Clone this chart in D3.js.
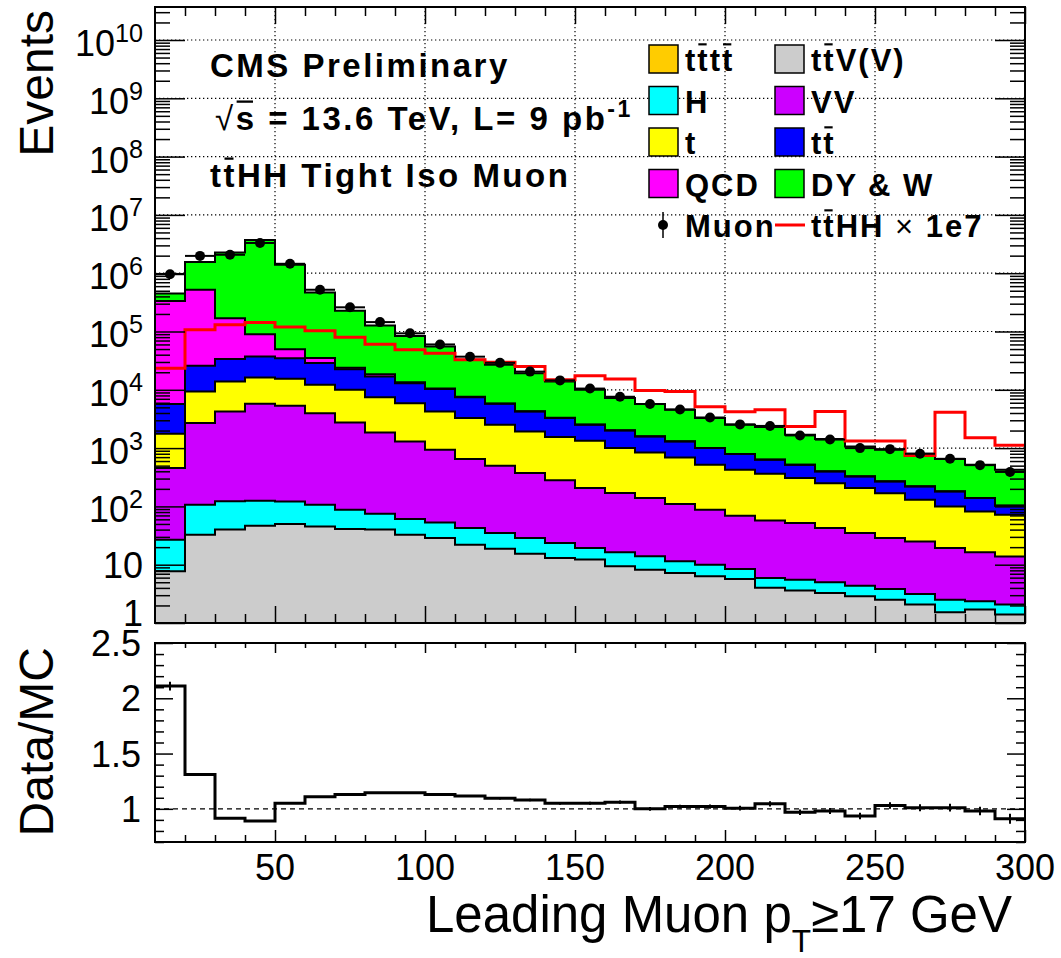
<!DOCTYPE html>
<html>
<head>
<meta charset="utf-8">
<script src="https://cdn.jsdelivr.net/npm/d3@7"></script>
<style>
  body { margin: 0; background: #fff; }
  text { font-family: "Liberation Sans", Arial, Helvetica, sans-serif; fill: #000; }
</style>
</head>
<body>
<svg id="chart" width="1061" height="958"></svg>
<script>
// bin lower edges (GeV) plus the final upper edge
var binEdges = [10, 20, 30, 40, 50, 60, 70, 80, 90, 100, 110, 120, 130, 140, 150,
  160, 170, 180, 190, 200, 210, 220, 230, 240, 250, 260, 270, 280, 290, 300];

// background processes, events per bin (stacked bottom to top)
var tttt = [0.02, 0.05, 0.06, 0.07, 0.07, 0.06, 0.06, 0.05, 0.05, 0.04, 0.04, 0.03, 0.03, 0.03, 0.02,
  0.02, 0.02, 0.02, 0.01, 0.01, 0.01, 0.01, 0.01, 0.01, 0.01, 0.01, 0.01, 0.01, 0.01];
var ttVV = [7.7, 32.6, 40, 46.5, 49.8, 45, 40.9, 40, 32.6, 28.7, 22, 18.8, 15.4, 13, 12.2,
  9.35, 8.2, 7.2, 6.3, 5.7, 4.0, 3.6, 3.27, 2.86, 2.5, 2.06, 1.52, 1.69, 1.39];
var higgs = [19, 74, 82, 78, 72, 62, 46.6, 34.8, 28, 24.3, 20.5, 16.1, 13.3, 10.5, 7.1,
  6.95, 5.7, 4.2, 3.7, 2.7, 1.9, 1.9, 1.7, 1.5, 1.33, 1.08, 0.98, 0.66, 0.67];
var diboson = [427, 2583, 4118, 5625, 5188, 3873, 2662, 1775, 1240, 882, 606, 462, 344, 256, 187,
  153, 125, 98.6, 77.5, 60.6, 51.5, 46.3, 37.5, 30.5, 24.9, 21.9, 16.8, 13.95, 11.8];
var singleTop = [1306, 6650, 9660, 10550, 10090, 8220, 7250, 5630, 4600, 3305, 2622, 2013, 1557, 1266, 1124,
  831, 702, 582, 430, 356, 306, 254, 208, 171, 140, 105, 80.7, 65.7, 58];
var ttbar = [3920, 16460, 19700, 20900, 19500, 16500, 12600, 9420, 7100, 6060, 4210, 3240, 2310, 1725, 1180,
  1010, 744, 608, 482, 364, 268, 212, 147, 120, 99, 90, 81, 57, 31];
var qcd = [329000, 492000, 135400, 52800, 14900, 6300, 1400, 1600, 500, 200, 100, 80, 50, 30, 20,
  15, 10, 8, 5, 4, 3, 2, 2, 2, 1, 1, 1, 1, 1];
var dyW = [115000, 1032000, 2091000, 3630000, 1340000, 430000, 202000, 108500, 70500, 44800, 25200, 21000, 15000, 10600, 7470,
  5175, 4085, 3232, 2265, 1717, 1656, 1170, 1030, 737, 666, 579, 466, 378, 321];

// data and signal
var muonData = [960000, 1980000, 2070000, 3300000, 1450000, 520000, 260000, 145000, 93000, 60000, 37000, 29000, 20500, 14500, 10500,
  7600, 5700, 4600, 3350, 2550, 2400, 1650, 1400, 1000, 960, 800, 655, 510, 390];
var ttHHx1e7 = [23500, 107000, 130000, 143000, 119000, 103000, 80000, 60700, 48500, 42500, 32700, 29800, 25100, 14800, 17500,
  15300, 9720, 9340, 5100, 4200, 4540, 2350, 4240, 1320, 1320, 750, 4140, 1500, 1120];

// ratio panel
var ratio = [2.11, 1.31, 0.915, 0.89, 1.05, 1.11, 1.13, 1.145, 1.145, 1.13, 1.115, 1.095, 1.08, 1.05, 1.05,
  1.06, 1.0, 1.02, 1.02, 1.006, 1.045, 0.97, 0.98, 0.935, 1.03, 1.01, 1.01, 0.98, 0.91];
var ratioErr = [0.04, 0.005, 0.005, 0.005, 0.005, 0.005, 0.005, 0.005, 0.005, 0.006, 0.008, 0.01, 0.012, 0.012, 0.014,
  0.015, 0.017, 0.018, 0.02, 0.022, 0.024, 0.025, 0.027, 0.03, 0.03, 0.032, 0.035, 0.038, 0.045];

// ticks
var xMajorTicks = [50, 100, 150, 200, 250, 300];
var xTickLabels = ["50", "100", "150", "200", "250", "300"];
var yExponents = [0, 1, 2, 3, 4, 5, 6, 7, 8, 9, 10];
var ratioTicks = [1, 1.5, 2, 2.5];
var ratioTickLabels = ["1", "1.5", "2", "2.5"];

// stack order, colours and legend labels
// markup: [..] overbar, ^{..} superscript, _{..} subscript, ~{..} normal weight
var procKeys = ["tttt", "ttVV", "higgs", "diboson", "singleTop", "ttbar", "qcd", "dyW"];
var procValues = { tttt: tttt, ttVV: ttVV, higgs: higgs, diboson: diboson, singleTop: singleTop, ttbar: ttbar, qcd: qcd, dyW: dyW };
var procColors = { tttt: "#ffcc00", ttVV: "#cccccc", higgs: "#00ffff", diboson: "#cc00ff",
  singleTop: "#ffff00", ttbar: "#0000ff", qcd: "#ff00ff", dyW: "#00ff00" };
var legendLeft = [["tttt", "t[t]t[t]"], ["higgs", "H"], ["singleTop", "t"], ["qcd", "QCD"], ["data", "Muon"]];
var legendRight = [["ttVV", "t[t]V(V)"], ["diboson", "VV"], ["ttbar", "t[t]"], ["dyW", "DY & W"], ["signal", "t[t]HH ~{×} 1e7"]];

var svg = d3.select("#chart");

// panel geometry
var main = { left: 155, right: 1025, top: 7, bottom: 623 };
var rat = { left: 155, right: 1025, top: 643, bottom: 842 };

var x = d3.scaleLinear().domain([10, 300]).range([main.left, main.right]);
var y = d3.scaleLog().domain([1, Math.pow(10, 10.566)]).range([main.bottom, main.top]).clamp(true);
var yr = d3.scaleLinear().domain([0.7, 2.5]).range([rat.bottom, rat.top]);

// text with overbars / super- and subscripts
function rich(parent, px, py, markup, o) {
  var fs = o.size;
  var t = parent.append("text")
    .attr("x", px).attr("y", py)
    .attr("font-size", fs)
    .attr("font-weight", o.weight || "normal")
    .attr("text-anchor", o.anchor || "start")
    .attr("letter-spacing", o.ls || 0);
  if (o.transform) t.attr("transform", o.transform);
  var re = /\[([^\]]+)\]|\^\{([^}]+)\}|_\{([^}]+)\}|~\{([^}]+)\}|([^\[\^_~]+)/g;
  var m, shift = 0, idx = 0, bars = [];
  while ((m = re.exec(markup))) {
    var s, dy = 0, size = fs, w = null;
    if (m[1]) { s = m[1]; bars.push([idx, s.length]); }
    else if (m[2]) { s = m[2]; size = fs * 0.7; dy = -fs * 0.4; }
    else if (m[3]) { s = m[3]; size = fs * 0.62; dy = fs * 0.4; }
    else if (m[4]) { s = m[4]; w = "normal"; }
    else s = m[5];
    var ts = t.append("tspan").text(s).attr("font-size", size).attr("dy", dy - shift);
    if (w) ts.attr("font-weight", w);
    shift = dy;
    idx += s.length;
  }
  var node = t.node();
  bars.forEach(function (b) {
    var e0 = node.getExtentOfChar(b[0]);
    var e1 = node.getExtentOfChar(b[0] + b[1] - 1);
    var x1 = e0.x + 1, x2 = e1.x + e1.width - (o.ls || 0) - 1, yb = py - fs * 0.86;
    if (b[0] > 0 && markup.charAt(markup.indexOf("[") - 1) === "√") { x1 -= 3; yb = py - fs * 0.95; }
    parent.append("line").attr("x1", x1).attr("x2", x2).attr("y1", yb).attr("y2", yb)
      .attr("stroke", "#000").attr("stroke-width", Math.max(2, fs * 0.07));
  });
  return t;
}

// ---------- main panel ----------
var gMain = svg.append("g");

// grid
var gridStyle = function (s) {
  s.attr("stroke", "#000").attr("stroke-width", 1.2).attr("stroke-dasharray", "1.3,2.7");
};
gMain.selectAll(".gx").data([50, 100, 150, 200, 250]).enter().append("line")
  .attr("x1", d => x(d)).attr("x2", d => x(d)).attr("y1", main.top).attr("y2", main.bottom).call(gridStyle);
gMain.selectAll(".gy").data(yExponents.slice(1)).enter().append("line")
  .attr("x1", main.left).attr("x2", main.right)
  .attr("y1", d => y(Math.pow(10, d))).attr("y2", d => y(Math.pow(10, d))).call(gridStyle);

// stacked backgrounds
var rows = binEdges.slice(0, -1).map(function (lo, i) {
  var r = { lo: lo };
  procKeys.forEach(function (k) { r[k] = procValues[k][i]; });
  return r;
});
var stacked = d3.stack().keys(procKeys)(rows);

function stepPts(layer) {
  var pts = layer.map(function (d, i) { return { e: binEdges[i], lo: d[0], hi: d[1] }; });
  var last = pts[pts.length - 1];
  pts.push({ e: binEdges[binEdges.length - 1], lo: last.lo, hi: last.hi });
  return pts;
}
var area = d3.area().curve(d3.curveStepAfter)
  .x(d => x(d.e)).y0(d => y(Math.max(d.lo, 1e-3))).y1(d => y(d.hi));
var stepLine = d3.line().curve(d3.curveStepAfter).x(d => x(d.e)).y(d => y(d.hi));

stacked.forEach(function (layer) {
  gMain.append("path").attr("d", area(stepPts(layer))).attr("fill", procColors[layer.key]).attr("stroke", "none");
});
stacked.forEach(function (layer) {
  gMain.append("path").attr("d", stepLine(stepPts(layer)))
    .attr("fill", "none").attr("stroke", "#000").attr("stroke-width", 2);
});

// signal
var sigPts = ttHHx1e7.map((v, i) => ({ e: binEdges[i], hi: v }));
sigPts.push({ e: 300, hi: ttHHx1e7[ttHHx1e7.length - 1] });
gMain.append("path").attr("d", stepLine(sigPts))
  .attr("fill", "none").attr("stroke", "#ff0000").attr("stroke-width", 3);

// data
var pts = muonData.map((v, i) => ({ lo: binEdges[i], hi: binEdges[i + 1], v: v }));
gMain.selectAll(".dbar").data(pts).enter().append("line")
  .attr("x1", d => x(d.lo)).attr("x2", d => x(d.hi))
  .attr("y1", d => y(d.v)).attr("y2", d => y(d.v))
  .attr("stroke", "#000").attr("stroke-width", 2);
gMain.selectAll(".dot").data(pts).enter().append("circle")
  .attr("cx", d => x((d.lo + d.hi) / 2)).attr("cy", d => y(d.v)).attr("r", 5).attr("fill", "#000");

// axes ticks (inward on all sides)
function ticks(g, axis) {
  g.call(axis.tickFormat(""));
  g.select(".domain").remove();
  g.selectAll(".tick line").attr("stroke", "#000").attr("stroke-width", 1.5);
}
var yMajors = yExponents.map(e => Math.pow(10, e));
var yMinors = [];
yExponents.forEach(function (e) {
  for (var k = 2; k <= 9; k++) { var v = k * Math.pow(10, e); if (v < y.domain()[1]) yMinors.push(v); }
});
var xMinors = d3.range(20, 300, 10).filter(v => v % 50 !== 0);

ticks(gMain.append("g").attr("transform", `translate(${main.left},0)`), d3.axisRight(y).tickValues(yMajors).tickSize(30));
ticks(gMain.append("g").attr("transform", `translate(${main.left},0)`), d3.axisRight(y).tickValues(yMinors).tickSize(15));
ticks(gMain.append("g").attr("transform", `translate(${main.right},0)`), d3.axisLeft(y).tickValues(yMajors).tickSize(30));
ticks(gMain.append("g").attr("transform", `translate(${main.right},0)`), d3.axisLeft(y).tickValues(yMinors).tickSize(15));
ticks(gMain.append("g").attr("transform", `translate(0,${main.bottom})`), d3.axisTop(x).tickValues(xMajorTicks).tickSize(17));
ticks(gMain.append("g").attr("transform", `translate(0,${main.bottom})`), d3.axisTop(x).tickValues(xMinors).tickSize(9));
ticks(gMain.append("g").attr("transform", `translate(0,${main.top})`), d3.axisBottom(x).tickValues(xMajorTicks).tickSize(17));
ticks(gMain.append("g").attr("transform", `translate(0,${main.top})`), d3.axisBottom(x).tickValues(xMinors).tickSize(9));

gMain.append("rect").attr("x", main.left).attr("y", main.top)
  .attr("width", main.right - main.left).attr("height", main.bottom - main.top)
  .attr("fill", "none").attr("stroke", "#000").attr("stroke-width", 2);

// y labels
yExponents.forEach(function (e) {
  var ty = y(Math.pow(10, e));
  if (e === 0) rich(gMain, 143, ty + 3, "1", { size: 36, anchor: "end" });
  else if (e === 1) rich(gMain, 143, ty + 13, "10", { size: 36, anchor: "end" });
  else rich(gMain, 143, ty + 16, "10^{" + e + "}", { size: 36, anchor: "end" });
});

rich(svg, 53, 10, "Events", { size: 48, anchor: "end", transform: "rotate(-90,53,10)" });

// header text
var bold = { size: 33, weight: "bold", ls: 2.5 };
rich(svg, 210, 77, "CMS Preliminary", bold);
rich(svg, 215, 130, "~{√}[s] = 13.6 TeV, L= 9 pb^{-1}", bold);
rich(svg, 210, 187, "t[t]HH Tight Iso Muon", bold);

// legend
var rowCenters = [59, 100.5, 142, 183.5, 225];
function legendCol(entries, bx, tx) {
  entries.forEach(function (en, i) {
    var cy = rowCenters[i];
    if (procColors[en[0]]) {
      svg.append("rect").attr("x", bx).attr("y", cy - 14).attr("width", 29).attr("height", 28)
        .attr("fill", procColors[en[0]]).attr("stroke", "#000").attr("stroke-width", 1.5);
    } else if (en[0] === "data") {
      svg.append("line").attr("x1", bx + 14).attr("x2", bx + 14).attr("y1", cy - 13).attr("y2", cy + 13)
        .attr("stroke", "#000").attr("stroke-width", 1.5);
      svg.append("circle").attr("cx", bx + 14).attr("cy", cy).attr("r", 5).attr("fill", "#000");
    } else {
      svg.append("line").attr("x1", bx).attr("x2", bx + 30).attr("y1", cy).attr("y2", cy)
        .attr("stroke", "#ff0000").attr("stroke-width", 3);
    }
    rich(svg, tx, cy + 12, en[1], { size: 31, weight: "bold", ls: 2 });
  });
}
legendCol(legendLeft, 649, 685);
legendCol(legendRight, 775, 811);

// ---------- ratio panel ----------
var gRat = svg.append("g");
gRat.append("line").attr("x1", rat.left).attr("x2", rat.right).attr("y1", yr(1)).attr("y2", yr(1))
  .attr("stroke", "#000").attr("stroke-width", 1.2).attr("stroke-dasharray", "5,4");

var rPts = ratio.map((v, i) => ({ e: binEdges[i], v: v }));
rPts.push({ e: 300, v: ratio[ratio.length - 1] });
gRat.append("path")
  .attr("d", d3.line().curve(d3.curveStepAfter).x(d => x(d.e)).y(d => yr(d.v))(rPts))
  .attr("fill", "none").attr("stroke", "#000").attr("stroke-width", 3);
gRat.selectAll(".err").data(ratio).enter().append("line")
  .attr("x1", (d, i) => x(binEdges[i] + 5)).attr("x2", (d, i) => x(binEdges[i] + 5))
  .attr("y1", (d, i) => yr(d - ratioErr[i])).attr("y2", (d, i) => yr(d + ratioErr[i]))
  .attr("stroke", "#000").attr("stroke-width", 2);

var rMinors = d3.range(0.7, 2.45, 0.1).filter(v => Math.abs(v * 2 - Math.round(v * 2)) > 0.01);
ticks(gRat.append("g").attr("transform", `translate(${rat.left},0)`), d3.axisRight(yr).tickValues(ratioTicks).tickSize(18));
ticks(gRat.append("g").attr("transform", `translate(${rat.left},0)`), d3.axisRight(yr).tickValues(rMinors).tickSize(9));
ticks(gRat.append("g").attr("transform", `translate(${rat.right},0)`), d3.axisLeft(yr).tickValues(ratioTicks).tickSize(18));
ticks(gRat.append("g").attr("transform", `translate(${rat.right},0)`), d3.axisLeft(yr).tickValues(rMinors).tickSize(9));
ticks(gRat.append("g").attr("transform", `translate(0,${rat.bottom})`), d3.axisTop(x).tickValues(xMajorTicks).tickSize(12));
ticks(gRat.append("g").attr("transform", `translate(0,${rat.bottom})`), d3.axisTop(x).tickValues(xMinors).tickSize(7));
ticks(gRat.append("g").attr("transform", `translate(0,${rat.top})`), d3.axisBottom(x).tickValues(xMajorTicks).tickSize(10));
ticks(gRat.append("g").attr("transform", `translate(0,${rat.top})`), d3.axisBottom(x).tickValues(xMinors).tickSize(5));

gRat.append("rect").attr("x", rat.left).attr("y", rat.top)
  .attr("width", rat.right - rat.left).attr("height", rat.bottom - rat.top)
  .attr("fill", "none").attr("stroke", "#000").attr("stroke-width", 2);

ratioTicks.forEach(function (v, i) {
  rich(gRat, 141, yr(v) + 13, ratioTickLabels[i], { size: 36, anchor: "end" });
});
xMajorTicks.forEach(function (v, i) {
  rich(gRat, x(v), 880, xTickLabels[i], { size: 36, anchor: "middle" });
});

rich(svg, 53, 647, "Data/MC", { size: 48, anchor: "end", transform: "rotate(-90,53,647)" });
rich(svg, 1012, 932, "Leading Muon p_{T}≥17 GeV", { size: 51, anchor: "end" });
</script>
</body>
</html>
